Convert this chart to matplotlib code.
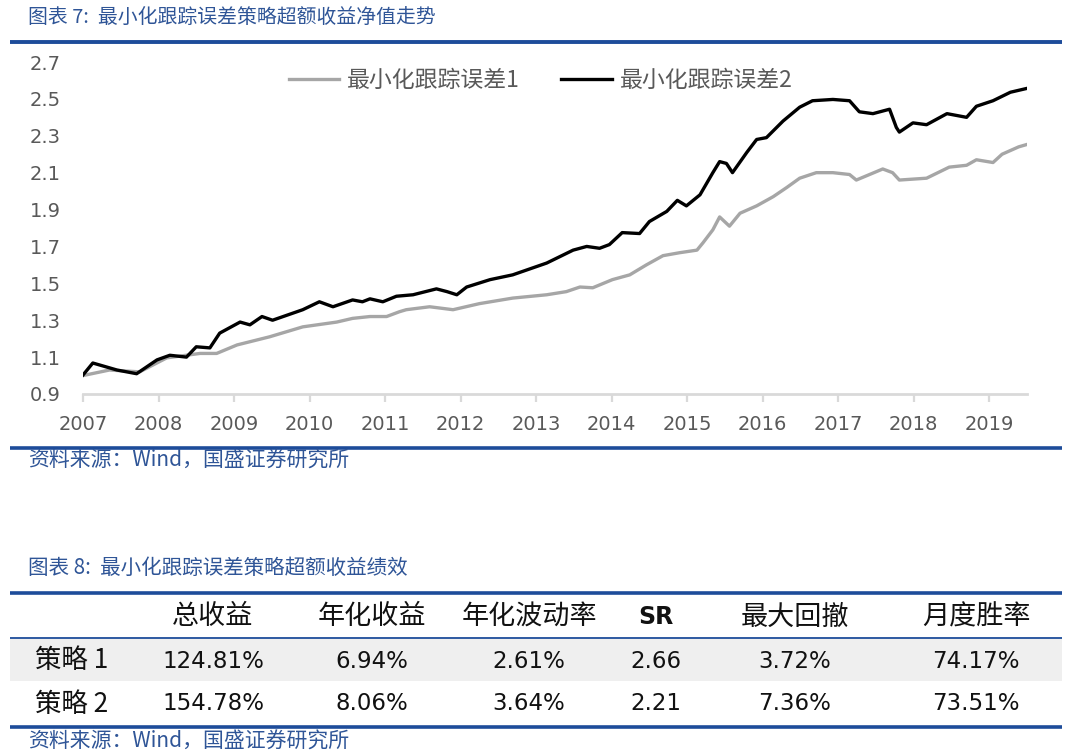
import matplotlib
matplotlib.use('Agg')
import matplotlib.pyplot as plt
from matplotlib.lines import Line2D
from matplotlib.patches import Rectangle

# ---------------- data ----------------
series_names = ['最小化跟踪误差1', '最小化跟踪误差2']

years1 = [2007.00, 2007.35, 2007.75, 2008.11, 2008.55, 2008.77, 2009.04, 2009.47,
          2009.91, 2010.36, 2010.57, 2010.80, 2011.02, 2011.19, 2011.28, 2011.59,
          2011.90, 2012.25, 2012.69, 2013.14, 2013.40, 2013.58, 2013.75, 2014.01,
          2014.24, 2014.46, 2014.68, 2014.90, 2015.13, 2015.21, 2015.34, 2015.43,
          2015.56, 2015.70, 2015.92, 2016.14, 2016.32, 2016.49, 2016.71, 2016.93,
          2017.15, 2017.24, 2017.59, 2017.72, 2017.81, 2018.17, 2018.47, 2018.70,
          2018.83, 2019.05, 2019.17, 2019.39, 2019.50]
nav1 = [1.00, 1.03, 1.02, 1.096, 1.12, 1.12, 1.166, 1.21,
        1.264, 1.29, 1.31, 1.32, 1.32, 1.346, 1.357, 1.373,
        1.357, 1.39, 1.42, 1.438, 1.455, 1.48, 1.476, 1.52,
        1.546, 1.60, 1.65, 1.666, 1.68, 1.72, 1.79, 1.86,
        1.81, 1.88, 1.92, 1.97, 2.02, 2.07, 2.10, 2.10,
        2.09, 2.06, 2.12, 2.10, 2.06, 2.07, 2.13, 2.14,
        2.17, 2.155, 2.20, 2.24, 2.253]

years2 = [2007.00, 2007.13, 2007.45, 2007.71, 2007.98, 2008.15, 2008.37, 2008.50,
          2008.68, 2008.81, 2009.08, 2009.21, 2009.37, 2009.51, 2009.91, 2010.13,
          2010.31, 2010.57, 2010.70, 2010.80, 2010.97, 2011.15, 2011.37, 2011.68,
          2011.82, 2011.95, 2012.08, 2012.39, 2012.69, 2013.14, 2013.49, 2013.67,
          2013.84, 2013.97, 2014.14, 2014.37, 2014.50, 2014.73, 2014.87, 2014.99,
          2015.17, 2015.34, 2015.43, 2015.52, 2015.60, 2015.79, 2015.92, 2016.05,
          2016.27, 2016.49, 2016.66, 2016.93, 2017.15, 2017.28, 2017.46, 2017.68,
          2017.77, 2017.81, 2017.99, 2018.17, 2018.44, 2018.70, 2018.83, 2019.05,
          2019.28, 2019.50]
nav2 = [1.003, 1.068, 1.03, 1.01, 1.085, 1.11, 1.10, 1.156,
        1.15, 1.23, 1.29, 1.275, 1.32, 1.30, 1.357, 1.40,
        1.373, 1.41, 1.40, 1.416, 1.40, 1.43, 1.438, 1.47,
        1.455, 1.438, 1.48, 1.52, 1.546, 1.61, 1.68, 1.70,
        1.69, 1.71, 1.775, 1.77, 1.835, 1.89, 1.95, 1.92,
        1.98, 2.10, 2.16, 2.15, 2.10, 2.21, 2.28, 2.29,
        2.38, 2.455, 2.49, 2.497, 2.49, 2.43, 2.42, 2.444,
        2.345, 2.32, 2.37, 2.36, 2.42, 2.40, 2.46, 2.49,
        2.536, 2.557]

x_ticks = list(range(2007, 2020))
y_ticks = [0.9, 1.1, 1.3, 1.5, 1.7, 1.9, 2.1, 2.3, 2.5, 2.7]

table_header = ['总收益', '年化收益', '年化波动率', 'SR', '最大回撤', '月度胜率']
table_rows = ['策略 1', '策略 2']
table_values = [['124.81%', '6.94%', '2.61%', '2.66', '3.72%', '74.17%'],
                ['154.78%', '8.06%', '3.64%', '2.21', '7.36%', '73.51%']]

title7 = '图表 7:  最小化跟踪误差策略超额收益净值走势'
title8 = '图表 8:  最小化跟踪误差策略超额收益绩效'
source = '资料来源：Wind，国盛证券研究所'

# ---------------- layout ----------------
W, H = 1080, 755
fig = plt.figure(figsize=(10.8, 7.55), dpi=100)
fig.patch.set_facecolor('white')
CJK = ['Noto Sans CJK SC', 'DejaVu Sans']
BLUE = '#1D4C9A'
TBLUE = '#2F5597'


def fx(x):
    return x / W


def fy(y):
    return 1 - y / H


def hrule(y, lw, x0=10, x1=1062, color=BLUE):
    fig.add_artist(Line2D([fx(x0), fx(x1)], [fy(y), fy(y)], transform=fig.transFigure,
                          color=color, lw=lw, solid_capstyle='butt'))


# titles / rules
fig.text(fx(28), fy(18), title7, family=CJK, fontsize=14.3, color=TBLUE,
         style='italic', va='center', ha='left')
hrule(42, 2.8)
hrule(448, 2.6)
fig.text(fx(28), fy(461), source, family=CJK, fontsize=15, color=TBLUE,
         style='italic', va='center', ha='left')

# chart
ax = fig.add_axes([fx(83), fy(394), fx(1027) - fx(83), fy(62) - fy(394)])
ax.plot(years1, nav1, color='#A6A6A6', lw=2.4, label=series_names[0])
ax.plot(years2, nav2, color='#000000', lw=2.4, label=series_names[1])
ax.set_xlim(2007, 2019.5)
ax.set_ylim(0.9, 2.7)
ax.set_xticks(x_ticks)
ax.set_xticklabels([str(t) for t in x_ticks])
ax.set_yticks(y_ticks)
ax.set_yticklabels(['%.1f' % t for t in y_ticks])
for s in ['top', 'right', 'left']:
    ax.spines[s].set_visible(False)
ax.spines['bottom'].set_color('#D9D9D9')
ax.spines['bottom'].set_linewidth(2)
ax.tick_params(axis='x', direction='out', length=6, width=1.6, color='#D9D9D9',
               labelsize=14, labelcolor='#595959', pad=9)
ax.tick_params(axis='y', length=0, labelsize=14, labelcolor='#595959', pad=16)
for lab in ax.get_xticklabels() + ax.get_yticklabels():
    lab.set_family('DejaVu Sans')
leg = ax.legend(loc='center', bbox_to_anchor=(0.485, 0.943), ncol=2, frameon=False,
                prop={'family': CJK, 'size': 16.5}, handlelength=2.2,
                handletextpad=0.35, columnspacing=1.8)
for t in leg.get_texts():
    t.set_color('#595959')

# table
fig.text(fx(28), fy(568), title8, family=CJK, fontsize=14.8, color=TBLUE,
         style='italic', va='center', ha='left')
hrule(593, 2.6)
col_x = [213, 372, 529, 656, 795, 976]
for cx, h in zip(col_x, table_header):
    if h == 'SR':
        fig.text(fx(cx), fy(617), h, family='DejaVu Sans', fontsize=17, weight='bold',
                 color='#111111', ha='center', va='center')
    else:
        fig.text(fx(cx), fy(617), h, family=CJK, fontsize=19.5, color='#111111',
                 ha='center', va='center')
hrule(638, 1.3)
fig.add_artist(Rectangle((fx(10), fy(681)), fx(1062) - fx(10), fy(639) - fy(681),
                         transform=fig.transFigure, facecolor='#EFEFEF', edgecolor='none',
                         zorder=0))
row_y = [661, 704]
for ry, rname, vals in zip(row_y, table_rows, table_values):
    fig.text(fx(35), fy(ry), rname, family=CJK, fontsize=19, color='#111111',
             ha='left', va='center')
    for cx, v in zip(col_x, vals):
        fig.text(fx(cx), fy(ry), v, family='DejaVu Sans', fontsize=16.5, color='#111111',
                 ha='center', va='center')
hrule(727, 2.6)
fig.text(fx(28), fy(742), source, family=CJK, fontsize=15, color=TBLUE,
         style='italic', va='center', ha='left')

fig.savefig('out.png', dpi=100, facecolor='white')
